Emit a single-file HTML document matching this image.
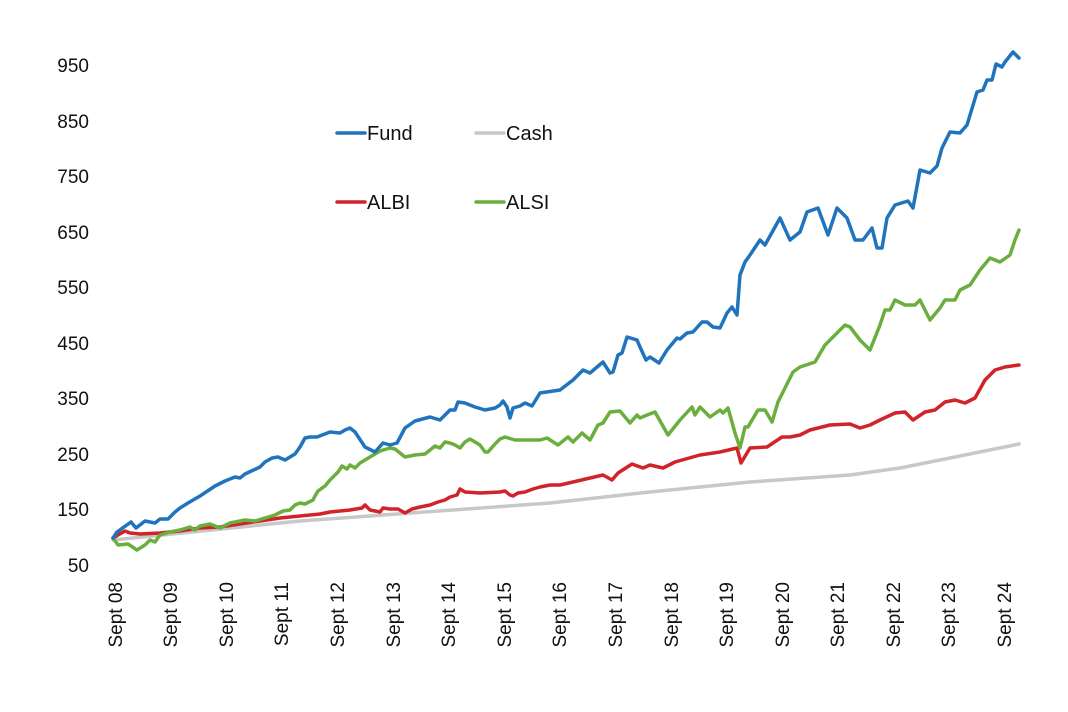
<!DOCTYPE html>
<html><head><meta charset="utf-8"><style>
body{margin:0;background:#fff;width:1068px;height:712px;overflow:hidden}
svg{display:block}
text{font-family:"Liberation Sans",sans-serif;fill:#111}
</style></head><body>
<svg width="1068" height="712" viewBox="0 0 1068 712">
<g font-size="19" text-anchor="end">
<text x="89" y="72">950</text>
<text x="89" y="128">850</text>
<text x="89" y="183">750</text>
<text x="89" y="239">650</text>
<text x="89" y="294">550</text>
<text x="89" y="350">450</text>
<text x="89" y="405">350</text>
<text x="89" y="461">250</text>
<text x="89" y="516">150</text>
<text x="89" y="572">50</text>
</g>
<g font-size="19" text-anchor="end">
<text transform="translate(122,582) rotate(-90)">Sept 08</text>
<text transform="translate(177,582) rotate(-90)">Sept 09</text>
<text transform="translate(233,582) rotate(-90)">Sept 10</text>
<text transform="translate(288,582) rotate(-90)">Sept 11</text>
<text transform="translate(344,582) rotate(-90)">Sept 12</text>
<text transform="translate(400,582) rotate(-90)">Sept 13</text>
<text transform="translate(455,582) rotate(-90)">Sept 14</text>
<text transform="translate(511,582) rotate(-90)">Sept 15</text>
<text transform="translate(566,582) rotate(-90)">Sept 16</text>
<text transform="translate(622,582) rotate(-90)">Sept 17</text>
<text transform="translate(678,582) rotate(-90)">Sept 18</text>
<text transform="translate(733,582) rotate(-90)">Sept 19</text>
<text transform="translate(789,582) rotate(-90)">Sept 20</text>
<text transform="translate(844,582) rotate(-90)">Sept 21</text>
<text transform="translate(900,582) rotate(-90)">Sept 22</text>
<text transform="translate(955,582) rotate(-90)">Sept 23</text>
<text transform="translate(1011,582) rotate(-90)">Sept 24</text>
</g>
<g fill="none" stroke-width="3.5" stroke-linejoin="round" stroke-linecap="round">
<polyline stroke="#c8c8c8" points="113,540 300,521 550,503 650,492 750,482 850,475 900,468 950,458 1019,444"/>
<polyline stroke="#d1232a" points="113,538 118,535 125,531 130,533 140,534 160,533 180,531 200,528 220,527 240,524 260,521 280,518 300,516 320,514 330,512 340,511 350,510 362,508 365,505 370,510 380,512 383,508 390,509 398,509 405,513 412,509 420,507 430,505 438,502 445,500 450,497 457,495 460,489 465,492 480,493 500,492 505,491 510,495 513,496 518,493 525,492 533,489 540,487 550,485 560,485 573,482 590,478 603,475 612,480 618,473 632,464 643,468 650,465 663,468 675,462 700,455 720,452 737,448 741,463 750,448 767,447 782,437 790,437 800,435 810,430 830,425 850,424 860,428 870,425 880,420 895,413 905,412 913,420 925,412 935,410 945,402 955,400 965,403 975,398 985,380 995,370 1005,367 1019,365"/>
<polyline stroke="#6aaf3d" points="113,538 118,545 128,544 137,550 145,545 150,540 155,542 160,535 170,532 180,530 190,527 195,530 200,526 210,524 220,528 230,523 245,520 255,521 265,518 275,515 283,511 290,510 295,505 300,503 305,504 313,500 315,496 318,491 325,486 330,480 338,472 342,466 347,469 350,465 355,468 360,463 370,457 380,451 390,448 395,449 405,457 415,455 425,454 430,450 435,446 440,448 445,442 450,443 455,445 460,448 465,442 470,439 480,445 485,452 488,452 495,444 500,439 505,437 515,440 540,440 547,438 558,445 568,437 573,442 582,433 590,440 598,425 603,423 610,412 620,411 630,423 637,415 640,418 647,415 655,412 668,435 680,420 692,407 695,415 700,407 710,417 720,410 723,413 728,408 735,433 740,448 745,427 748,427 758,410 765,410 772,422 778,402 793,372 800,367 815,362 825,345 835,335 845,325 850,327 860,340 870,350 880,325 885,310 890,310 895,300 905,305 915,305 920,300 930,320 940,308 945,300 955,300 960,290 970,285 980,270 990,258 1000,262 1010,255 1015,240 1019,230"/>
<polyline stroke="#1f74bd" points="113,538 117,532 131,522 136,528 145,521 155,523 160,519 168,519 175,512 180,508 188,503 200,496 215,486 225,481 235,477 240,478 245,474 260,467 265,462 272,458 278,457 285,460 295,454 300,447 305,438 310,437 317,437 330,432 340,433 345,430 350,428 355,432 365,447 375,452 383,443 390,445 397,443 405,428 415,421 430,417 440,420 450,410 455,410 458,402 465,403 475,407 485,410 495,408 500,405 503,401 507,407 510,418 513,408 520,406 525,403 532,406 540,393 560,390 573,380 583,370 590,373 603,362 610,373 613,372 618,355 622,353 627,337 637,340 640,347 646,360 650,357 659,363 667,350 677,338 680,339 687,333 693,332 702,322 707,322 713,327 720,328 727,313 732,307 737,315 740,275 745,262 750,255 760,240 765,245 780,218 790,240 800,232 807,212 818,208 828,235 837,208 847,218 855,240 863,240 872,228 877,248 882,248 887,218 895,205 908,201 913,208 920,170 930,173 937,166 942,148 950,132 960,133 967,125 977,92 983,90 987,80 992,80 996,64 1002,67 1005,62 1013,52 1019,58"/>
<line x1="337" y1="133" x2="365" y2="133" stroke="#1f74bd"/>
<line x1="476" y1="133" x2="504" y2="133" stroke="#c8c8c8"/>
<line x1="337" y1="202" x2="365" y2="202" stroke="#d1232a"/>
<line x1="476" y1="202" x2="504" y2="202" stroke="#6aaf3d"/>
</g>
<g font-size="20">
<text x="367" y="140">Fund</text>
<text x="506" y="140">Cash</text>
<text x="367" y="209">ALBI</text>
<text x="506" y="209">ALSI</text>
</g>
</svg>
</body></html>
